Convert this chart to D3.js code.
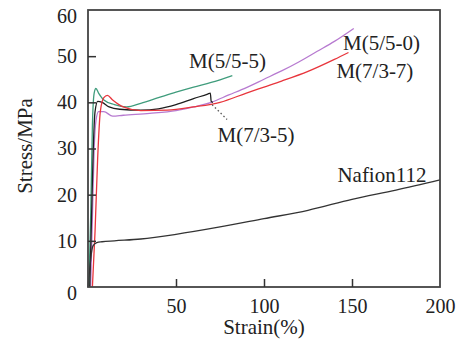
<!DOCTYPE html>
<html>
<head>
<meta charset="utf-8">
<script src="https://cdn.jsdelivr.net/npm/d3@7"></script>
<style>
  body { margin: 0; background: #fff; }
</style>
</head>
<body>
<div id="chart"></div>
<script>
// stress-strain curves, [strain %, stress MPa]
const m55_5 = [[0.5,0],[1.5,15],[2.5,35],[3.5,42],[4.5,43],[6,42],[9,40.5],[15,39.5],[22,39],[30,39.8],[40,41],[50,42.2],[60,43.3],[70,44.3],[82,45.8]]
const m73_5 = [[1,0],[2,15],[3,30],[4,38],[5.5,40.2],[8,40],[12,39],[18,38.5],[30,38.3],[40,38.6],[50,39.5],[60,40.8],[68,41.8],[69.5,42],[70,40.2],[71,40]]
const m73_7 = [[2.5,0],[4,12],[5.5,28],[7,38],[9,41],[11,41.5],[14,40.5],[20,39],[30,38.2],[45,38.3],[60,39],[75,40],[90,42],[100,43.3],[110,44.6],[125,46.7],[140,49.3],[148,50.8]]
const m55_0 = [[1.5,0],[2.5,15],[3.5,30],[4.5,36],[6,38],[9,38],[14,37],[20,37.2],[35,37.6],[50,38.2],[60,39],[70,40],[80,41.6],[90,43.2],[100,45],[110,46.8],[120,48.8],[130,51],[140,53.2],[151,56]]
const nafion = [[0,0],[1,4],[2,7.5],[3,9],[5,9.6],[8,9.8],[15,10],[30,10.4],[50,11.4],[75,13],[100,14.8],[125,16.6],[150,19],[175,21],[200,23.2]]

const xTicks = [50, 100, 150, 200]
const yTicks = [0, 10, 20, 30, 40, 50, 60]

const series = [
  {data: m55_5, color: '#3f9c7c'},
  {data: m55_0, color: '#b77ad0'},
  {data: m73_5, color: '#1e1e1e'},
  {data: m73_7, color: '#e8353c'},
  {data: nafion, color: '#333'}
]

// curve labels (centre strain, baseline stress)
const labels = [
  {text: 'M(5/5-5)', x: 79.3, y: 47.4},
  {text: 'M(5/5-0)', x: 166.8, y: 51.3},
  {text: 'M(7/3-7)', x: 163, y: 45.3},
  {text: 'M(7/3-5)', x: 95.5, y: 31.4},
  {text: 'Nafion112', x: 167, y: 22.7}
]

const FONT = '"Liberation Serif", "Times New Roman", Times, serif'
const width = 458, height = 342
const margin = {top: 10, right: 18, bottom: 55, left: 88}

const svg = d3.select('#chart').append('svg')
  .attr('width', width)
  .attr('height', height)
  .style('font-family', FONT)

const x = d3.scaleLinear().domain([0, 200]).range([margin.left, width - margin.right])
const y = d3.scaleLinear().domain([0, 60]).range([height - margin.bottom, margin.top])

// curves
const line = d3.line().x(d => x(d[0])).y(d => y(d[1])).curve(d3.curveMonotoneX)
svg.selectAll('path.curve')
  .data(series)
  .enter()
  .append('path')
  .attr('class', 'curve')
  .attr('d', d => line(d.data))
  .attr('fill', 'none')
  .attr('stroke', d => d.color)
  .attr('stroke-width', 1.3)

// dotted leader for M(7/3-5)
svg.append('line')
  .attr('x1', x(70.5)).attr('y1', y(39.5))
  .attr('x2', x(79)).attr('y2', y(36.3))
  .attr('stroke', '#555')
  .attr('stroke-width', 1.3)
  .attr('stroke-dasharray', '1.5,2.5')

// frame
svg.append('rect')
  .attr('x', x(0)).attr('y', y(60))
  .attr('width', x(200) - x(0)).attr('height', y(0) - y(60))
  .attr('fill', 'none')
  .attr('stroke', '#444')
  .attr('stroke-width', 1.8)

// axes (ticks inward)
const xAxis = svg.append('g')
  .attr('transform', 'translate(0,' + y(0) + ')')
  .call(d3.axisBottom(x).tickValues(xTicks).tickSizeInner(-8).tickSizeOuter(0).tickPadding(12))
const yAxis = svg.append('g')
  .attr('transform', 'translate(' + x(0) + ',0)')
  .call(d3.axisLeft(y).tickValues(yTicks).tickSizeInner(-8).tickSizeOuter(0).tickPadding(11))

for (const ax of [xAxis, yAxis]) {
  ax.attr('font-family', null)
  ax.select('.domain').remove()
  ax.selectAll('line').attr('stroke', '#333').attr('stroke-width', 1.5)
  ax.selectAll('text').style('font-size', '20px').style('font-family', FONT).attr('fill', '#222')
}
yAxis.selectAll('.tick').filter(d => d === 0 || d === 60).select('line').remove()
xAxis.selectAll('.tick').filter(d => d === 200).select('line').remove()
yAxis.selectAll('.tick').filter(d => d === 0).select('text').attr('dy', '0.62em')
yAxis.selectAll('.tick').filter(d => d === 60).select('text').attr('dy', '0.62em')

// axis titles
svg.append('text')
  .attr('x', (x(0) + x(200)) / 2)
  .attr('y', 334)
  .attr('text-anchor', 'middle')
  .attr('fill', '#222')
  .style('font-size', '21px')
  .text('Strain(%)')

svg.append('text')
  .attr('transform', 'translate(32,' + 146 + ') rotate(-90)')
  .attr('text-anchor', 'middle')
  .attr('fill', '#222')
  .style('font-size', '21px')
  .text('Stress/MPa')

svg.selectAll('text.lbl')
  .data(labels)
  .enter()
  .append('text')
  .attr('class', 'lbl')
  .attr('x', d => x(d.x))
  .attr('y', d => y(d.y))
  .attr('text-anchor', 'middle')
  .attr('fill', '#222')
  .style('font-size', '21px')
  .text(d => d.text)
</script>
</body>
</html>
